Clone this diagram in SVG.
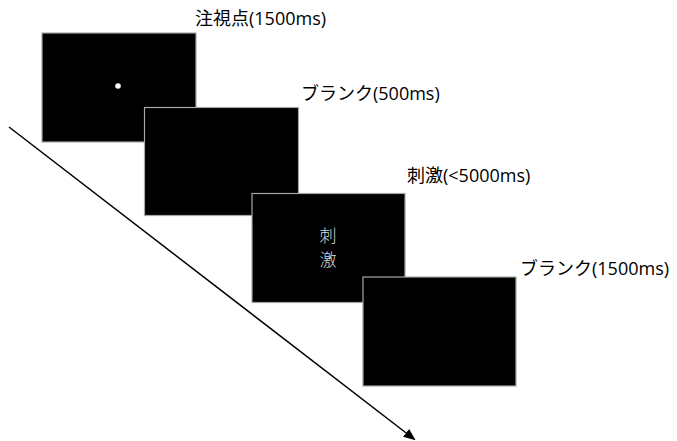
<svg xmlns="http://www.w3.org/2000/svg" width="677" height="441" viewBox="0 0 677 441">
<style>
.scr{fill:#000;stroke:#a6a6a6;stroke-width:1.2}
.lbl{font-family:"Open Sans","Noto Sans CJK JP",sans-serif;font-size:18px;fill:#000}
.in{font-family:"Noto Sans CJK JP",sans-serif;font-size:17px;font-weight:300;fill:#d9d9d9;text-anchor:middle}
</style>
<defs>
<marker id="ah" markerWidth="12" markerHeight="10" refX="10" refY="5" orient="auto" markerUnits="userSpaceOnUse">
<path d="M0,0 L12,5 L0,10 Z" fill="#000"/>
</marker>
</defs>
<g id="connectors">
<line x1="9" y1="127" x2="414" y2="439" stroke="#000" stroke-width="1.5" marker-end="url(#ah)"/>
</g>
<g id="fixation">
<rect class="scr" x="42" y="33" width="154" height="109"/>
<circle cx="118" cy="86" r="2.8" fill="#fff"/>
<text class="lbl" x="195" y="25">注視点(1500ms)</text>
</g>
<g id="blank1">
<rect class="scr" x="144.5" y="107.5" width="154" height="108"/>
<text class="lbl" x="301" y="100">ブランク(500ms)</text>
</g>
<g id="stimulus">
<rect class="scr" x="252" y="193.5" width="153" height="109"/>
<text class="in" x="328" y="242">刺</text>
<text class="in" x="328" y="266">激</text>
<text class="lbl" x="407" y="182">刺激(&lt;5000ms)</text>
</g>
<g id="blank2">
<rect class="scr" x="363" y="277" width="153" height="109"/>
<text class="lbl" x="520" y="275">ブランク(1500ms)</text>
</g>
</svg>
